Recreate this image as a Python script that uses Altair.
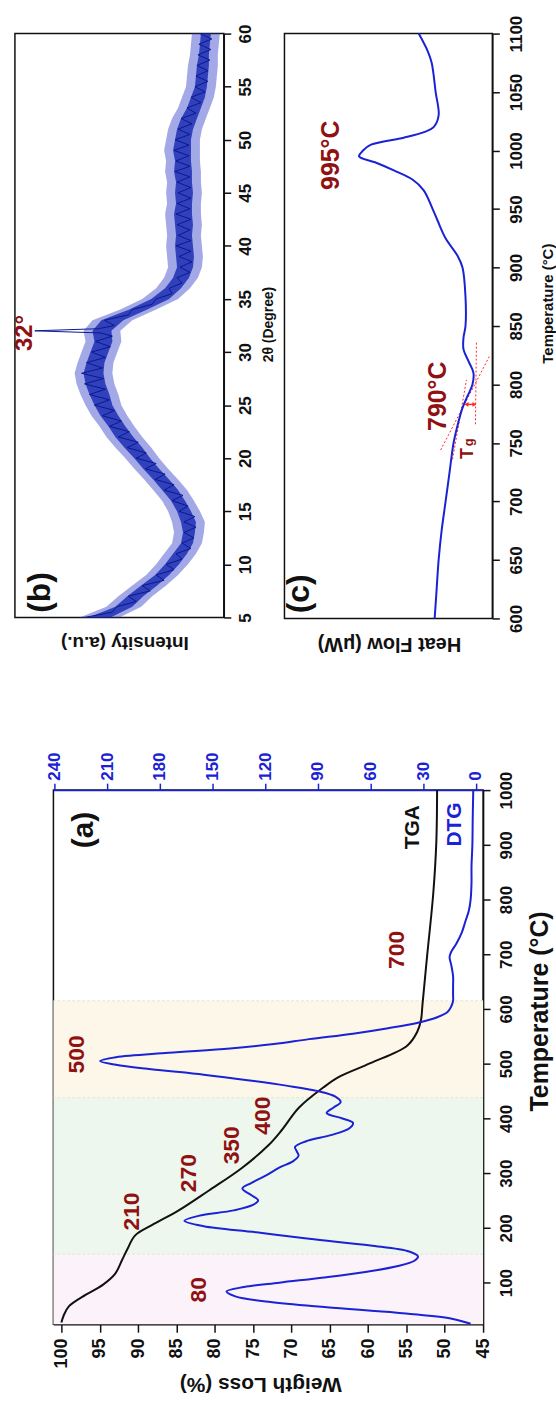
import altair as alt
import pandas as pd

FONT = "Liberation Sans"
RED = "#8f1111"
BLUE = "#1a22d4"
XBLUE = "#3040c8"
XCORE = "#1525b0"
XLINE = "#0a1890"
BLACK = "#111111"

# ---------------- panel (a): TGA / DTG ----------------
tga_T = [27, 40, 57, 78, 96, 116, 141, 161, 186, 205, 232, 268, 309, 351, 378,
         420, 457, 476, 501, 533, 558, 580, 609, 697, 811, 905, 1000]
tga_wl = [100.0, 99.7, 99.0, 96.8, 94.6, 93.0, 92.1, 91.4, 90.4, 88.2, 84.7, 80.8,
          76.5, 73.0, 71.3, 69.0, 65.8, 63.8, 59.7, 54.9, 53.6, 53.1, 52.9, 52.3,
          51.5, 51.1, 51.0]

dtg_T = [25, 35, 45, 55, 65, 75, 84, 92, 100, 110, 120, 130, 140, 148, 157, 168,
         180, 192, 203, 213, 222, 232, 242, 250, 260, 272, 282, 295, 310, 322, 332,
         340, 348, 358, 370, 382, 392, 400, 410, 420, 430, 440, 450, 460, 470, 480,
         490, 498, 505, 512, 520, 528, 536, 545, 555, 565, 575, 585, 595, 605, 615,
         625, 640, 660, 680, 695, 705, 720, 740, 760, 780, 800, 830, 860, 900, 950, 1000]
dtg_v = [3, 15, 45, 85, 118, 137, 142, 132, 112, 85, 62, 45, 35, 33, 38, 60,
         95, 125, 155, 166, 158, 138, 127, 124, 128, 133, 128, 120, 112, 104, 101,
         102, 103, 97, 82, 72, 70, 76, 85, 81, 77, 80, 90, 108, 130, 155,
         185, 205, 214, 205, 175, 140, 115, 95, 70, 50, 33, 22, 16, 14, 13,
         13, 13, 13, 14, 15, 14, 11, 8, 6, 4, 3, 2.5, 2.5, 2, 1.8, 1.5]

region_T0 = [24, 152, 438]
region_T1 = [152, 438, 615]
region_fill = ["#fcf3fa", "#eef7ee", "#fdf7ea"]
boundary_T = [152, 438, 615]

peak_labels = ["80", "210", "270", "350", "400", "500", "700"]
peak_wl = [82.1, 90.8, 83.4, 77.8, 73.7, 97.9, 56.2]
peak_T = [87, 230, 300, 351, 405, 517, 708]

# ---------------- panel (b): XRD ----------------
xrd_tt = [5.0, 5.5, 6.0, 6.5, 7.0, 7.5, 8.0, 8.5, 9.0, 9.5, 10.0, 10.5, 11.0, 11.5,
          12.0, 12.5, 13.0, 13.5, 14.0, 14.5, 15.0, 15.5, 16.0, 16.5, 17.0, 17.5,
          18.0, 18.5, 19.0, 19.5, 20.0, 20.5, 21.0, 21.5, 22.0, 22.5, 23.0, 23.5,
          24.0, 24.5, 25.0, 25.5, 26.0, 26.5, 27.0, 27.5, 28.0, 28.5, 29.0, 29.5,
          30.0, 30.5, 31.0, 31.5, 31.8, 32.0, 32.2, 32.5, 33.0, 33.5, 34.0, 34.5,
          35.0, 35.5, 36.0, 36.5, 37.0, 37.5, 38.0, 38.5, 39.0, 39.5, 40.0, 40.5,
          41.0, 41.5, 42.0, 42.5, 43.0, 43.5, 44.0, 44.5, 45.0, 45.5, 46.0, 46.5,
          47.0, 47.5, 48.0, 48.5, 49.0, 49.5, 50.0, 50.5, 51.0, 51.5, 52.0, 52.5,
          53.0, 53.5, 54.0, 54.5, 55.0, 55.5, 56.0, 56.5, 57.0, 57.5, 58.0, 58.5,
          59.0, 59.5, 60.0]
xrd_int = [140, 112, 108, 88, 96, 74, 82, 60, 68, 50, 58, 42, 48, 33,
           42, 30, 40, 28, 40, 29, 45, 36, 52, 41, 60, 50,
           69, 59, 79, 68, 88, 78, 97, 86, 106, 95, 115, 103,
           122, 110, 130, 115, 135, 119, 140, 121, 143, 122, 138, 119,
           133, 114, 129, 112, 124, 190, 126, 110, 120, 96, 92, 72,
           68, 52, 55, 42, 47, 34, 44, 32, 45, 33, 48, 33,
           46, 34, 47, 33, 48, 34, 47, 33, 46, 33, 47, 34,
           49, 34, 48, 35, 50, 35, 49, 34, 46, 32, 43, 28,
           37, 23, 33, 19, 29, 16, 28, 16, 27, 14, 26, 13,
           25, 12, 24]
band_tt = [5, 6, 7, 8, 9, 10, 11, 12, 13, 14, 15, 16, 17, 18, 19, 20, 21, 22, 23, 24,
           25, 26, 27, 28, 29, 30, 31, 32, 33, 34, 35, 36, 37, 38, 39, 40, 41, 42, 43,
           44, 45, 46, 47, 48, 49, 50, 51, 52, 53, 54, 55, 56, 57, 58, 59, 60]
band_hi = [145, 118, 106, 92, 78, 68, 60, 52, 50, 52, 56, 62, 71, 80, 90, 99, 109, 118,
           125, 133, 139, 144, 148, 150, 147, 143, 139, 141, 132, 104, 82, 68, 60, 56,
           57, 58, 57, 58, 59, 57, 58, 57, 59, 58, 60, 58, 56, 52, 46, 42, 38, 37, 36,
           34, 33, 32]
band_lo = [105, 83, 72, 58, 46, 36, 28, 22, 20, 19, 24, 30, 37, 46, 56, 65, 73, 82,
           90, 97, 103, 106, 110, 112, 111, 107, 103, 104, 92, 68, 46, 34, 26, 22,
           21, 22, 23, 22, 23, 23, 22, 23, 23, 24, 24, 24, 22, 18, 14, 10, 8, 7, 6,
           6, 5, 4]
core_hi = [136, 109, 97, 83, 69, 59, 51, 43, 41, 43, 47, 53, 62, 71, 81, 90, 100, 109,
           116, 124, 130, 135, 139, 141, 138, 134, 130, 132, 123, 95, 73, 59, 51, 47,
           48, 49, 48, 49, 50, 48, 49, 48, 50, 49, 51, 49, 47, 43, 37, 33, 29, 28, 27,
           25, 24, 23]
core_lo = [114, 92, 81, 67, 55, 45, 37, 31, 29, 28, 33, 39, 46, 55, 65, 74, 82, 91,
           99, 106, 112, 115, 119, 121, 120, 116, 112, 113, 101, 77, 55, 43, 35, 31,
           30, 31, 32, 31, 32, 32, 31, 32, 32, 33, 33, 33, 31, 27, 23, 19, 17, 16, 15,
           15, 14, 13]

# ---------------- panel (c): DSC ----------------
dsc_T = [600, 625, 650, 675, 700, 725, 750, 765, 780, 790, 800, 810, 820, 830, 840,
         850, 875, 900, 910, 925, 940, 950, 966, 975, 983, 990, 995, 1000, 1005, 1011,
         1016, 1020, 1030, 1050, 1075, 1085, 1100]
dsc_hf = [58, 56, 54, 51, 47, 43, 39, 35, 30, 25, 20, 19, 24, 29, 29,
          27, 27, 30, 35, 47, 55, 60, 69, 80, 99, 118, 134, 130, 122, 89,
          68, 59, 54, 57, 61, 65, 74]
tan_grp = ["l1", "l1", "l2", "l2", "l3", "l3"]
tan_T = [744, 824, 736, 804, 766, 836]
tan_hf = [52, 3, 40, 26, 17, 16]
arrow_T = [783]
arrow_hf0 = [26]
arrow_hf1 = [18]
arrow_head_hf = [26, 18]
arrow_head_shape = ["triangle-left", "triangle-right"]

# =====================================================
# Panel (a)
# =====================================================
T_scale_a = alt.Scale(domain=[24, 1000], nice=False, zero=False)
T_axis_a = alt.Axis(orient="right", values=[100, 200, 300, 400, 500, 600, 700, 800, 900, 1000],
                    format="d",
                    labelAngle=270, labelAlign="center", labelBaseline="top",
                    labelFontSize=17, labelFontWeight="bold", labelPadding=9, tickSize=7,
                    title="Temperature (°C)", titleAngle=270, titleFontSize=25,
                    titleFontWeight="bold", titleX=57, titleY=222,
                    titleAlign="center", titleBaseline="middle")
yA = alt.Y("T:Q", scale=T_scale_a, axis=T_axis_a)

WL_scale = alt.Scale(domain=[45, 101.04], reverse=True, nice=False, zero=False)
WL_axis = alt.Axis(orient="bottom", values=[45, 50, 55, 60, 65, 70, 75, 80, 85, 90, 95, 100],
                   format="d",
                   labelAngle=270, labelAlign="right", labelBaseline="middle",
                   labelFontSize=18, labelFontWeight="bold", labelPadding=6, tickSize=8,
                   title="Weigth Loss (%)", titleAngle=180, titleFontSize=21,
                   titleFontWeight="bold", titleX=208, titleY=60,
                   titleAlign="center", titleBaseline="middle")
xWL = alt.X("WL:Q", scale=WL_scale, axis=WL_axis)

DTG_scale = alt.Scale(domain=[-4.1, 240.6], reverse=True, nice=False, zero=False)
DTG_axis = alt.Axis(orient="top", values=[0, 30, 60, 90, 120, 150, 180, 210, 240],
                    format="d",
                    labelAngle=270, labelAlign="left", labelBaseline="middle",
                    labelFontSize=17, labelFontWeight="bold", labelPadding=3, tickSize=7,
                    labelColor=BLUE, tickColor=BLUE, domainColor=BLUE, title=None)

df_regions = pd.DataFrame({"T": region_T0, "T1": region_T1, "fill": region_fill})
df_bound = pd.DataFrame({"T": boundary_T})
df_tga = pd.DataFrame({"T": tga_T, "WL": tga_wl})
df_dtg = pd.DataFrame({"T": dtg_T, "DTG": dtg_v})
df_peaks = pd.DataFrame({"T": peak_T, "WL": peak_wl, "label": peak_labels})
df_tga_lab = pd.DataFrame({"T": [932], "WL": [54.1], "label": ["TGA"]})
df_dtg_lab = pd.DataFrame({"T": [937], "WL": [48.7], "label": ["DTG"]})
df_a_lab = pd.DataFrame({"T": [927], "WL": [97.1], "label": ["(a)"]})

bands = alt.Chart(df_regions).mark_rect().encode(
    y=yA, y2="T1:Q", color=alt.Color("fill:N", scale=None))
bounds_rules = alt.Chart(df_bound).mark_rule(
    color="#dfe7cf", strokeDash=[3, 2], strokeWidth=1).encode(y=yA)
tga_line = alt.Chart(df_tga).mark_line(
    color=BLACK, strokeWidth=2, interpolate="catmull-rom").encode(
    x=xWL, y=yA, order="T:Q")
peak_text = alt.Chart(df_peaks).mark_text(
    angle=270, font=FONT, fontSize=23, fontWeight="bold", color=RED,
    align="center", baseline="middle").encode(x=xWL, y=yA, text="label:N")
tga_text = alt.Chart(df_tga_lab).mark_text(
    angle=270, font=FONT, fontSize=21, fontWeight="bold", color=BLACK,
    align="center", baseline="middle").encode(x=xWL, y=yA, text="label:N")
dtg_text = alt.Chart(df_dtg_lab).mark_text(
    angle=270, font=FONT, fontSize=21, fontWeight="bold", color=BLUE,
    align="center", baseline="middle").encode(x=xWL, y=yA, text="label:N")
a_text = alt.Chart(df_a_lab).mark_text(
    angle=270, font=FONT, fontSize=30, fontWeight="bold", color=BLACK,
    align="center", baseline="middle").encode(x=xWL, y=yA, text="label:N")

inner_a = alt.layer(bands, bounds_rules, tga_line, peak_text, tga_text, dtg_text, a_text)
dtg_line = alt.Chart(df_dtg).mark_line(
    color=BLUE, strokeWidth=2, interpolate="catmull-rom").encode(
    x=alt.X("DTG:Q", scale=DTG_scale, axis=DTG_axis), y=yA, order="T:Q")

chart_a = alt.layer(inner_a, dtg_line).resolve_scale(x="independent").properties(
    width=432, height=537)

# =====================================================
# Panel (b)
# =====================================================
I_scale = alt.Scale(domain=[0, 210], reverse=True, nice=False, zero=False)
I_axis = alt.Axis(orient="bottom", labels=False, ticks=False, domain=False,
                  title="Intensity (a.u.)", titleAngle=180, titleFontSize=19,
                  titleFontWeight="bold", titleX=110, titleY=25,
                  titleAlign="center", titleBaseline="middle")
tt_scale = alt.Scale(domain=[5, 60], nice=False, zero=False)
tt_axis = alt.Axis(orient="right", values=[5, 10, 15, 20, 25, 30, 35, 40, 45, 50, 55, 60],
                   format="d",
                   labelAngle=270, labelAlign="center", labelBaseline="top",
                   labelFontSize=17, labelFontWeight="bold", labelPadding=7, tickSize=7,
                   title="2θ (Degree)", titleAngle=270, titleFontSize=14,
                   titleFontWeight="bold", titleX=45, titleY=292,
                   titleAlign="center", titleBaseline="middle")
yB = alt.Y("tt:Q", scale=tt_scale, axis=tt_axis)

df_band = pd.DataFrame({"tt": band_tt, "lo": band_lo, "hi": band_hi,
                        "clo": core_lo, "chi": core_hi})
df_xrd = pd.DataFrame({"tt": xrd_tt, "I": xrd_int})
df_b_lab = pd.DataFrame({"tt": [7.35], "I": [184.5], "label": ["(b)"]})
df_32 = pd.DataFrame({"tt": [31.8], "I": [199.5], "label": ["32°"]})

xrd_band = alt.Chart(df_band).mark_area(orient="horizontal", color=XBLUE, opacity=0.45).encode(
    y=yB, x=alt.X("lo:Q", scale=I_scale, axis=I_axis), x2="hi:Q")
xrd_core = alt.Chart(df_band).mark_area(orient="horizontal", color=XCORE, opacity=0.8).encode(
    y=yB, x=alt.X("clo:Q", scale=I_scale, axis=I_axis), x2="chi:Q")
xrd_line = alt.Chart(df_xrd).mark_line(color=XLINE, strokeWidth=1).encode(
    x=alt.X("I:Q", scale=I_scale, axis=I_axis), y=yB, order="tt:Q")
b_text = alt.Chart(df_b_lab).mark_text(
    angle=270, font=FONT, fontSize=32, fontWeight="bold", color=BLACK,
    align="center", baseline="middle").encode(
    x=alt.X("I:Q", scale=I_scale, axis=I_axis), y=yB, text="label:N")
t32_text = alt.Chart(df_32).mark_text(
    angle=270, font=FONT, fontSize=24, fontWeight="bold", color=RED,
    align="center", baseline="middle").encode(
    x=alt.X("I:Q", scale=I_scale, axis=I_axis), y=yB, text="label:N")

chart_b = alt.layer(xrd_band, xrd_core, xrd_line, b_text, t32_text).properties(
    width=210, height=587)

# =====================================================
# Panel (c)
# =====================================================
hf_scale = alt.Scale(domain=[0, 209], reverse=True, nice=False, zero=False)
hf_axis = alt.Axis(orient="bottom", labels=False, ticks=False, domain=False,
                   title="Heat Flow (μW)", titleAngle=180, titleFontSize=20,
                   titleFontWeight="bold", titleX=105, titleY=25,
                   titleAlign="center", titleBaseline="middle")
Tc_scale = alt.Scale(domain=[600, 1100], nice=False, zero=False)
Tc_axis = alt.Axis(orient="right",
                   values=[600, 650, 700, 750, 800, 850, 900, 950, 1000, 1050, 1100],
                   format="d",
                   labelAngle=270, labelAlign="center", labelBaseline="top",
                   labelFontSize=17, labelFontWeight="bold", labelPadding=9, tickSize=7,
                   title="Temperature (°C)", titleAngle=270, titleFontSize=15,
                   titleFontWeight="bold", titleX=55, titleY=271,
                   titleAlign="center", titleBaseline="middle")
xC = alt.X("hf:Q", scale=hf_scale, axis=hf_axis)
yC = alt.Y("T:Q", scale=Tc_scale, axis=Tc_axis)

df_dsc = pd.DataFrame({"T": dsc_T, "hf": dsc_hf})
df_tan = pd.DataFrame({"T": tan_T, "hf": tan_hf, "grp": tan_grp})
df_arrow = pd.DataFrame({"T": arrow_T, "hf": arrow_hf0, "hf1": arrow_hf1})
df_heads = pd.DataFrame({"T": arrow_T * 2, "hf": arrow_head_hf, "shape": arrow_head_shape})
df_c_red = pd.DataFrame({"T": [996, 790], "hf": [162, 55], "label": ["995°C", "790°C"]})
df_c_T = pd.DataFrame({"T": [741], "hf": [24], "label": ["T"]})
df_c_g = pd.DataFrame({"T": [750.5], "hf": [23], "label": ["g"]})
df_c_lab = pd.DataFrame({"T": [621], "hf": [194], "label": ["(c)"]})

tan_lines = alt.Chart(df_tan).mark_line(color="#ff2a2a", strokeDash=[2, 2], strokeWidth=1).encode(
    x=xC, y=yC, detail="grp:N", order="T:Q")
dsc_line = alt.Chart(df_dsc).mark_line(
    color=BLUE, strokeWidth=2, interpolate="catmull-rom").encode(x=xC, y=yC, order="T:Q")
arrow_rule = alt.Chart(df_arrow).mark_rule(color="#ff2a2a", strokeWidth=1.5).encode(
    x=xC, x2="hf1:Q", y=yC)
arrow_heads = alt.Chart(df_heads).mark_point(filled=True, size=22, color="#ff2a2a", opacity=1).encode(
    x=xC, y=yC, shape=alt.Shape("shape:N", scale=None))
c_red = alt.Chart(df_c_red).mark_text(
    angle=270, font=FONT, fontSize=25, fontWeight="bold", color=RED,
    align="center", baseline="middle").encode(x=xC, y=yC, text="label:N")
c_T = alt.Chart(df_c_T).mark_text(
    angle=270, font=FONT, fontSize=18, fontWeight="bold", color=RED,
    align="center", baseline="middle").encode(x=xC, y=yC, text="label:N")
c_g = alt.Chart(df_c_g).mark_text(
    angle=270, font=FONT, fontSize=13, fontWeight="bold", color=RED,
    align="center", baseline="middle").encode(x=xC, y=yC, text="label:N")
c_lab = alt.Chart(df_c_lab).mark_text(
    angle=270, font=FONT, fontSize=32, fontWeight="bold", color=BLACK,
    align="center", baseline="middle").encode(x=xC, y=yC, text="label:N")

chart_c = alt.layer(tan_lines, dsc_line, arrow_rule, arrow_heads, c_red, c_T, c_g, c_lab).properties(
    width=209, height=588)

# =====================================================
# Layout
# =====================================================
spacer = alt.Chart(pd.DataFrame({"s": [0]})).mark_point(opacity=0).encode(
    x=alt.X("s:Q", axis=None), y=alt.Y("s:Q", axis=None)).properties(
    width=10, height=10, view=alt.ViewBackground(strokeOpacity=0))

top = alt.hconcat(chart_b, chart_c, spacing=61, bounds="flush")
bottom = alt.hconcat(spacer, chart_a, spacing=28.7, bounds="flush")

chart = alt.vconcat(top, bottom, spacing=96.6).properties(
    padding={"left": 12, "top": 10, "right": 0, "bottom": 0}
).configure(font=FONT).configure_view(
    stroke=BLACK, strokeWidth=1.5
).configure_axis(
    grid=False, labelFont=FONT, titleFont=FONT, domainColor=BLACK, tickColor=BLACK,
    labelColor=BLACK, titleColor=BLACK, domainWidth=1.5, tickWidth=1.5,
    labelFlush=False, labelOverlap=False
)

chart.save("out.html", embed_options={"renderer": "svg", "actions": False})
